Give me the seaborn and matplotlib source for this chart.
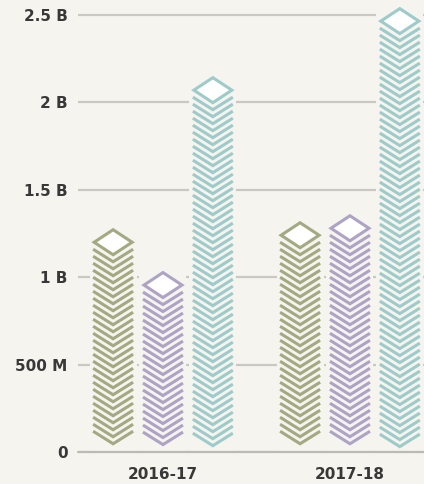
import numpy as np
import pandas as pd
import matplotlib
matplotlib.use("Agg")
import matplotlib.pyplot as plt
import seaborn as sns
from matplotlib.patches import Polygon, Rectangle

# ---- data ----
years = ["2016-17", "2017-18"]
series = ["Series A", "Series B", "Series C"]
values_a = [1.20e9, 1.24e9]
values_b = [0.955e9, 1.28e9]
values_c = [2.07e9, 2.465e9]
colors = ["#a3aa82", "#afa3c5", "#9ecbca"]
yticks = [0, 0.5e9, 1.0e9, 1.5e9, 2.0e9, 2.5e9]
ytick_labels = ["0", "500 M", "1 B", "1.5 B", "2 B", "2.5 B"]

df = pd.DataFrame({
    "year": years * 3,
    "series": [s for s in series for _ in years],
    "value": values_a + values_b + values_c,
})

BG = "#f5f4ef"
GRID = "#cbc8c2"
TEXT = "#383838"
W, H = 424, 484
DPI = 100

sns.set_theme(style="white")
plt.rcParams["font.family"] = ["DejaVu Sans"]

fig = plt.figure(figsize=(W / DPI, H / DPI), dpi=DPI, facecolor=BG)
ax = fig.add_axes([78 / W, (H - 452) / H, 1 - 78 / W, 452 / H])
ax.set_facecolor(BG)

sns.barplot(data=df, x="year", y="value", hue="series", hue_order=series,
            palette=colors, width=0.8, gap=0.0, legend=False, ax=ax,
            errorbar=None)

ax.set_ylim(0, 2.5e9 * 452 / 437)
ax.set_xlim(-0.4545, 1.396)
ax.set_yticks(yticks)
ax.set_yticklabels(ytick_labels)
ax.set_xlabel("")
ax.set_ylabel("")
for s in ax.spines.values():
    s.set_visible(False)
ax.yaxis.grid(True, color=GRID, lw=1.6, zorder=0)
ax.set_axisbelow(True)
ax.tick_params(axis="y", length=0, pad=7.5, labelsize=11, labelcolor=TEXT)
ax.tick_params(axis="x", length=0, pad=11, labelsize=11, labelcolor=TEXT)
for lab in ax.get_yticklabels() + ax.get_xticklabels():
    lab.set_fontweight("bold")

fig.canvas.draw()
# pixel -> data conversion
p0 = ax.transData.transform((0, 0))
p1 = ax.transData.transform((1, 1e9))
px_x = 1.0 / (p1[0] - p0[0])          # data units per pixel (x)
px_y = 1e9 / (p1[1] - p0[1])          # data units per pixel (y)

BAR_W = 40 * px_x
HALF_H = 12.5 * px_y
STEP = 7.0 * px_y
LW = 2.2

for cont, col in zip(ax.containers, colors):
    for patch in cont.patches:
        patch.set_visible(False)
        xc = patch.get_x() + patch.get_width() / 2
        val = patch.get_height()
        x0, x1 = xc - BAR_W / 2, xc + BAR_W / 2
        # background block hides gridlines behind the column
        ax.add_patch(Rectangle((x0 - 3.5 * px_x, 0), BAR_W + 7 * px_x,
                               val + HALF_H + 2 * px_y, facecolor=BG,
                               edgecolor="none", zorder=2))
        # chevron stack
        tip = val - HALF_H - STEP
        while tip >= 2.5 * px_y:
            ax.plot([x0, xc, x1], [tip + HALF_H, tip, tip + HALF_H],
                    color=col, lw=LW, solid_joinstyle="miter",
                    solid_capstyle="butt", zorder=3)
            tip -= STEP
        # diamond top
        ax.add_patch(Polygon([[x0 + 1 * px_x, val], [xc, val + HALF_H],
                              [x1 - 1 * px_x, val], [xc, val - HALF_H]],
                             closed=True, facecolor="white", edgecolor=col,
                             lw=LW, joinstyle="miter", zorder=4))

ax.axhline(0, color="#bdbab4", lw=1.6, zorder=5, clip_on=False)

fig.savefig("out.png", dpi=DPI, facecolor=BG)
